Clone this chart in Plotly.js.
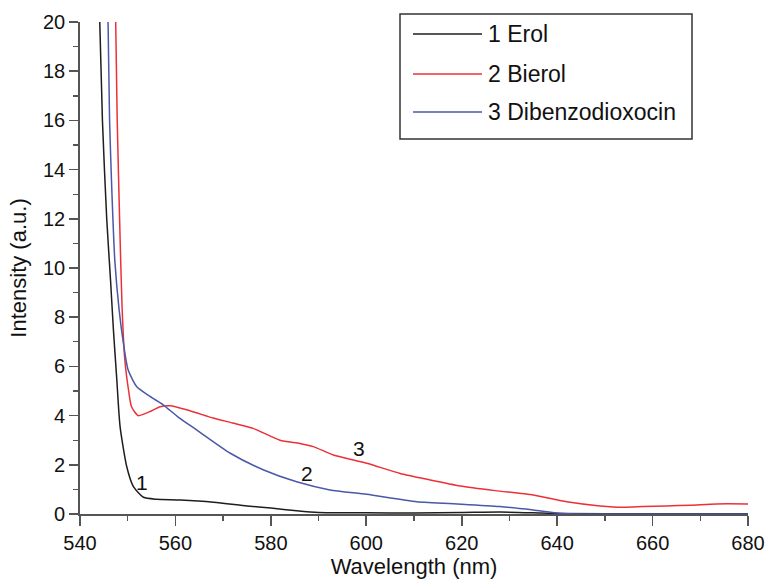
<!DOCTYPE html>
<html><head><meta charset="utf-8">
<script src="https://cdn.plot.ly/plotly-3.0.1.min.js"></script>
<style>html,body{margin:0;padding:0;background:#fff}</style>
</head><body>
<div id="chart" style="width:768px;height:584px"></div>
<script>
const names = ["1 Erol", "2 Bierol", "3 Dibenzodioxocin"];
const colors = ["#1e1e1e", "#ec3038", "#4a58a8"];

const erolX = [544.0, 544.7, 545.6, 546.4, 547.0, 547.7, 548.4, 549.8, 551.2, 553.3, 556, 561, 568, 575, 580, 585.4, 590, 600, 610, 620, 628, 635, 640, 660, 680];
const erolY = [21, 16, 12, 9.5, 7.5, 5.5, 3.55, 1.92, 1.11, 0.68, 0.6, 0.57, 0.48, 0.33, 0.24, 0.13, 0.06, 0.05, 0.04, 0.06, 0.08, 0.05, 0.02, 0.01, 0.01];

const bierolX = [547.4, 547.8, 548.3, 548.8, 549.4, 550.2, 550.8, 552.2, 554.5, 556.8, 558.9, 563, 567.9, 572, 576.3, 581.9, 586.1, 588.9, 593.1, 600.1, 607.1, 613, 619.7, 627, 635.0, 642.0, 649.0, 653.9, 658, 662.9, 668, 673.4, 680];
const bierolY = [21, 16, 12, 8.5, 6.26, 5.0, 4.36, 4.0, 4.15, 4.36, 4.4, 4.2, 3.9, 3.7, 3.48, 3.0, 2.87, 2.74, 2.4, 2.06, 1.65, 1.4, 1.14, 0.95, 0.77, 0.5, 0.33, 0.27, 0.3, 0.33, 0.36, 0.41, 0.41];

const dibenzX = [545.8, 546.2, 546.7, 547.3, 548.2, 549.1, 550.1, 551.9, 554.5, 557.5, 560.5, 564.5, 571.5, 578.5, 585.4, 592.4, 600.1, 610.6, 620, 628, 635, 640.6, 645, 660, 680];
const dibenzY = [21, 16, 13, 10.3, 8.3, 6.94, 5.85, 5.17, 4.8, 4.43, 3.95, 3.41, 2.47, 1.79, 1.31, 0.98, 0.8, 0.5, 0.4, 0.3, 0.16, 0.03, 0.0, 0.0, 0.0];

const labelText = ["1", "2", "3"];
const labelX = [553.0, 587.6, 598.4];
const labelY = [1.3, 1.65, 2.65];

const xs = [erolX, bierolX, dibenzX];
const ys = [erolY, bierolY, dibenzY];
const traces = names.map((n, i) => ({
  x: xs[i], y: ys[i], name: n, type: 'scatter', mode: 'lines',
  line: {color: colors[i], width: 1.5, shape: 'spline', smoothing: 0.6}
}));

const FAM = 'Liberation Sans, Arial, sans-serif';
const tickFont = {family: FAM, size: 20, color: '#111'};
const titleFont = {family: FAM, size: 22, color: '#111'};

// legend drawn in paper coordinates (plot area: 80..748 px, 22..514 px)
const PX = px => (px - 80) / 668;
const PY = py => (514 - py) / 492;
const legRows = [34, 74, 112];
const shapes = [{type: 'rect', xref: 'paper', yref: 'paper',
  x0: PX(400), x1: PX(692), y0: PY(139), y1: PY(14),
  line: {color: '#333', width: 1.5}, fillcolor: 'rgba(0,0,0,0)'}];
const annotations = [];
names.forEach((n, i) => {
  shapes.push({type: 'line', xref: 'paper', yref: 'paper',
    x0: PX(413), x1: PX(482), y0: PY(legRows[i]), y1: PY(legRows[i]),
    line: {color: colors[i], width: 1.5}});
  annotations.push({xref: 'paper', yref: 'paper', x: PX(486), y: PY(legRows[i]),
    xanchor: 'left', yanchor: 'middle', text: n, showarrow: false,
    font: {family: FAM, size: 23, color: '#111'}});
});
labelText.forEach((t, i) => annotations.push({
  x: labelX[i], y: labelY[i], text: t, showarrow: false,
  font: {family: FAM, size: 21, color: '#111'}
}));

const layout = {
  width: 768, height: 584,
  margin: {l: 80, r: 20, t: 22, b: 70},
  paper_bgcolor: '#fff', plot_bgcolor: '#fff',
  font: tickFont,
  showlegend: false,
  xaxis: {range: [540, 680], dtick: 20, tick0: 540, showgrid: false, zeroline: false,
    showline: true, linecolor: '#555', linewidth: 1.8,
    ticks: 'outside', ticklen: 10, tickwidth: 1.6, tickcolor: '#555',
    minor: {dtick: 10, ticks: 'outside', ticklen: 5, tickwidth: 1.4, tickcolor: '#555', showgrid: false},
    tickfont: tickFont,
    title: {text: 'Wavelength (nm)', font: titleFont, standoff: 6}},
  yaxis: {range: [0, 20], dtick: 2, tick0: 0, showgrid: false, zeroline: false,
    showline: true, linecolor: '#555', linewidth: 1.8,
    ticks: 'outside', ticklen: 9, tickwidth: 1.6, tickcolor: '#555',
    minor: {dtick: 1, ticks: 'outside', ticklen: 5, tickwidth: 1.4, tickcolor: '#555', showgrid: false},
    tickfont: tickFont,
    title: {text: 'Intensity (a.u.)', font: titleFont, standoff: 10}},
  shapes: shapes,
  annotations: annotations
};
Plotly.newPlot('chart', traces, layout, {displayModeBar: false, staticPlot: true});
</script>
</body></html>
